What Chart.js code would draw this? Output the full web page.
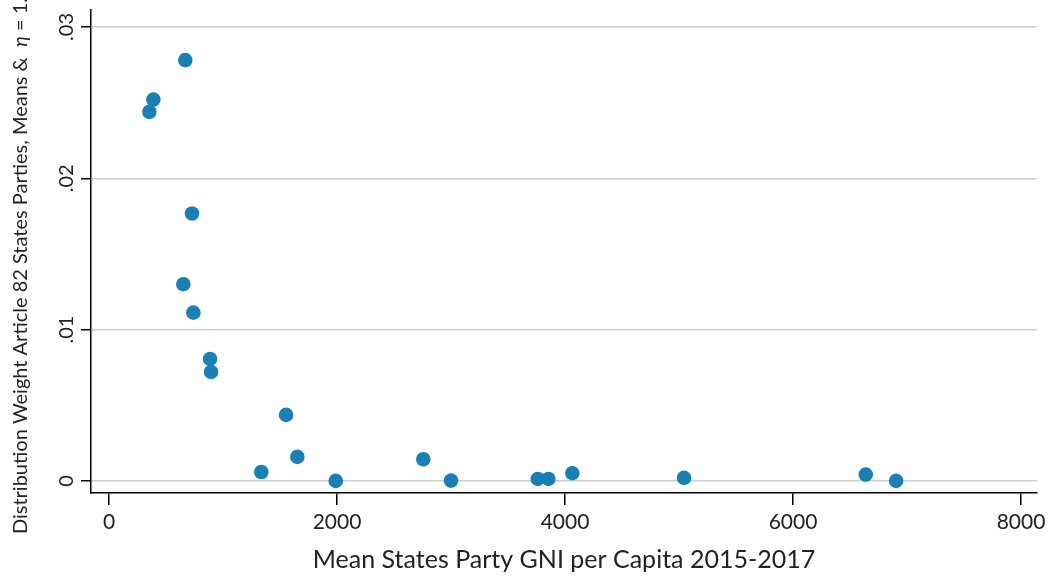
<!DOCTYPE html>
<html>
<head>
<meta charset="utf-8">
<script src="https://cdn.jsdelivr.net/npm/chart.js@4.4.1/dist/chart.umd.min.js"></script>
<style>
  body { margin: 0; background: #fff; }
  #chart { display: block; }
</style>
</head>
<body>
<canvas id="chart" width="1055" height="580"></canvas>
<script>
// values
var gni = [354, 389, 669, 728, 652, 740, 886, 895, 1553, 1336, 1652, 1989, 2757, 3000, 3761, 3854, 4064, 5044, 6638, 6904];
var weight = [0.02439, 0.02520, 0.02781, 0.01767, 0.01300, 0.01112, 0.00806, 0.00720, 0.00436, 0.00059, 0.00159, 0.0, 0.00143, 0.00002, 0.00013, 0.00013, 0.00051, 0.00020, 0.00042, 0.0];

var xTicks = [0, 2000, 4000, 6000, 8000];
var yTicks = [0, 0.01, 0.02, 0.03];
var yTickText = ["0", ".01", ".02", ".03"];

var yTitleParts = ["Distribution Weight Article 82 States Parties, Means &  ", "\u03B7", " = 1."];

var fontName = "Lato, 'Open Sans', sans-serif";
var textColor = "#222";

var points = gni.map(function (x, i) {
    return { x: x, y: weight[i] };
});

// rotated y tick labels and the y title (with italic eta) are drawn here
var yAxisText = {
    id: "yAxisText",
    afterDraw: function (chart) {
        var s = chart.scales.y;
        var ctx = chart.ctx;
        ctx.save();
        ctx.font = "20px " + fontName;
        ctx.fillStyle = textColor;
        ctx.textAlign = "center";
        ctx.textBaseline = "middle";
        yTicks.forEach(function (v, i) {
            var py = s.getPixelForValue(v);
            ctx.save();
            ctx.translate(67, py);
            ctx.rotate(-Math.PI / 2);
            ctx.fillText(yTickText[i], 0, 0);
            ctx.restore();
        });

        // title
        var fonts = ["20px " + fontName, "italic 20px " + fontName, "20px " + fontName];
        var total = 0;
        var widths = yTitleParts.map(function (t, i) {
            ctx.font = fonts[i];
            var w = ctx.measureText(t).width;
            total += w;
            return w;
        });
        ctx.translate(21, 266);
        ctx.rotate(-Math.PI / 2);
        ctx.textAlign = "left";
        var x = -total / 2;
        yTitleParts.forEach(function (t, i) {
            ctx.font = fonts[i];
            ctx.fillText(t, x, 0);
            x += widths[i];
        });
        ctx.restore();
    }
};

var ctx = document.getElementById("chart");
var myChart = new Chart(ctx, {
    type: "scatter",
    data: {
        datasets: [{
            data: points,
            backgroundColor: "#1a80b3",
            borderWidth: 0,
            pointRadius: 7.3,
            pointHoverRadius: 7.3
        }]
    },
    options: {
        responsive: false,
        animation: false,
        devicePixelRatio: 1,
        layout: { padding: { top: 10, right: 18, left: 0, bottom: 0 } },
        plugins: {
            legend: { display: false },
            tooltip: { enabled: false }
        },
        scales: {
            x: {
                type: "linear",
                min: -158,
                max: 8140,
                afterBuildTicks: function (s) {
                    s.ticks = xTicks.map(function (v) { return { value: v }; });
                },
                afterFit: function (s) { s.height = 87; },
                ticks: {
                    padding: 5,
                    color: textColor,
                    font: { family: fontName, size: 21 },
                    maxRotation: 0,
                    callback: function (v) { return String(v); }
                },
                grid: {
                    drawOnChartArea: false,
                    tickLength: 12,
                    tickColor: "#000",
                    lineWidth: 1.5
                },
                border: { color: "#000", width: 1.5 },
                title: {
                    display: true,
                    text: "Mean States Party GNI per Capita 2015-2017",
                    color: textColor,
                    font: { family: fontName, size: 25 },
                    padding: { top: 0, bottom: 5 }
                }
            },
            y: {
                type: "linear",
                min: -0.0008,
                max: 0.03112,
                afterBuildTicks: function (s) {
                    s.ticks = yTicks.map(function (v) { return { value: v }; });
                },
                afterFit: function (s) { s.width = 91; },
                ticks: { display: false },
                grid: {
                    color: "#cccccc",
                    lineWidth: 1.5,
                    tickLength: 10,
                    tickColor: "#000"
                },
                border: { color: "#000", width: 1.5 }
            }
        }
    },
    plugins: [yAxisText]
});
</script>
</body>
</html>
